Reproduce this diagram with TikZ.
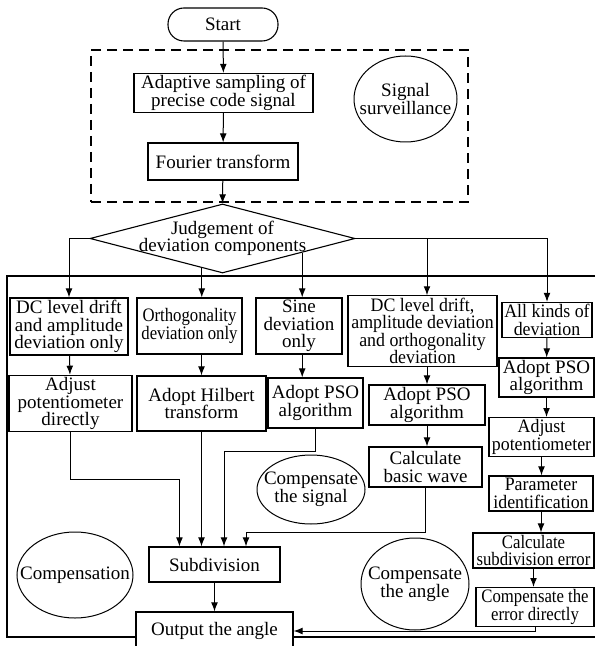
\documentclass[tikz,border=0pt]{standalone}
\usepackage{fontspec}
\setmainfont{Liberation Serif}
\newfontfamily\narrowfont[FakeStretch=0.88]{Liberation Serif}
\newfontfamily\semifont[FakeStretch=0.94]{Liberation Serif}
\usetikzlibrary{positioning,arrows.meta,calc,shapes.geometric}
\newcommand\diagfont{\fontsize{9.5}{8.8}\selectfont}
\tikzset{
  box/.style={draw, line width=0.55pt, align=center, inner sep=1pt, font=\diagfont},
  oval/.style={draw, ellipse, line width=0.5pt, inner sep=0pt},
  txt/.style={align=center, inner sep=0pt, font=\diagfont},
  flow/.style={-{Latex[length=4.5pt,width=3.4pt]}, line width=0.5pt},
}

\begin{document}
\begin{tikzpicture}[x=0.5pt, y=-0.5pt]
  \useasboundingbox (0,0) rectangle (595,646);

  %% surveillance part
  \node[box, rounded corners=8pt, minimum width=55pt, minimum height=16.5pt] (start) at (223,24.5) {Start};
  \node[draw, line width=0.7pt, dash pattern=on 5pt off 3pt, minimum width=188.5pt, minimum height=76pt] (survey) at (279.5,126) {};
  \node[box, minimum width=89.5pt, minimum height=19pt] (adapt) at (223.5,93) {Adaptive sampling of\\precise code signal};
  \node[box, minimum width=75pt, minimum height=18.5pt] (fourier) at (223,161.5) {Fourier transform};
  \node[oval, minimum width=51.5pt, minimum height=43pt,
        label={[txt]center:{Signal\\surveillance}}] (sigsv) at (405.5,99) {};

  \draw[flow] (start) -- (adapt);
  \draw[flow] (adapt) -- (fourier);

  %% judgement
  \node[draw, diamond, line width=0.55pt, inner sep=0pt, minimum width=132.5pt, minimum height=34.5pt,
        label={[txt]center:{Judgement of\\deviation components}}] (judge) at (222.5,238.5) {};
  \draw[flow] (fourier) -- (judge.north);

  %% compensation frame
  \draw[line width=0.55pt] (595,276) -| (7,637) -- (595,637);

  %% first row
  \node[box, minimum width=59pt, minimum height=28.5pt] (dc1) at (69,326.5) {DC level drift\\and amplitude\\deviation only};
  \node[box, minimum width=52.5pt, minimum height=28pt] (ortho) at (189.5,326) {\narrowfont Orthogonality\\\narrowfont deviation only};
  \node[box, minimum width=43pt, minimum height=28pt] (sine) at (299,326) {Sine\\deviation\\only};
  \node[box, minimum width=74.5pt, minimum height=33pt] (dc2) at (422.5,331) {\semifont DC level drift,\\\semifont amplitude deviation\\\semifont and orthogonality\\\semifont deviation};
  \node[box, minimum width=45pt, minimum height=17pt] (allk) at (547,320) {\semifont All kinds of\\\semifont deviation};

  \draw[flow] (judge.west) -| (dc1.north);
  \draw[flow] (judge.-125) -- (judge.-125 |- ortho.north);
  \draw[flow] (judge.-10) -- (judge.-10 |- sine.north);
  \draw[flow] (judge.east) -| (allk.north);
  \coordinate (split) at (judge.east -| 427,0);
  \draw[flow] (split) -- (split |- dc2.north);

  %% second row
  \node[box, minimum width=61.5pt, minimum height=27.5pt] (adjd) at (70.5,403.5) {Adjust\\potentiometer\\directly};
  \node[box, minimum width=64.5pt, minimum height=27.5pt] (hilb) at (201.5,403.5) {Adopt Hilbert\\transform};
  \node[box, minimum width=47.5pt, minimum height=25pt] (pso1) at (315.5,403) {Adopt PSO\\algorithm};
  \node[box, minimum width=58pt, minimum height=20pt] (pso2) at (427,405) {Adopt PSO\\algorithm};
  \node[box, minimum width=47.5pt, minimum height=19.5pt] (pso3) at (546.5,377.5) {Adopt PSO\\algorithm};

  \draw[flow] (dc1) -- (adjd);
  \draw[flow] (hilb.north |- ortho.south) -- (hilb.north);
  \draw[flow] (sine.south -| judge.-10) -- (pso1.north -| judge.-10);
  \draw[flow] (dc2.south -| pso2.north) -- (pso2.north);
  \draw[flow] (allk) -- (pso3);

  %% right column
  \node[box, minimum width=56.5pt, minimum height=20pt] (calc) at (425.5,467) {Calculate\\basic wave};
  \node[box, minimum width=52.5pt, minimum height=18pt] (adjp) at (541.5,437) {\semifont Adjust\\\semifont potentiometer};
  \node[box, minimum width=52pt, minimum height=17.5pt] (param) at (541,493.5) {\semifont Parameter\\\semifont identification};
  \node[box, minimum width=60.5pt, minimum height=17.5pt] (csub) at (533.5,550.5) {\narrowfont Calculate\\\narrowfont subdivision error};
  \node[box, minimum width=59pt, minimum height=17pt] (cerr) at (535,607) {\narrowfont Compensate the\\\narrowfont error directly};

  \draw[flow] (pso2) -- (pso2 |- calc.north);
  \draw[flow] (pso3.south) -- (pso3.south |- adjp.north);
  \draw[flow] (adjp.south) -- (adjp.south |- param.north);
  \draw[flow] (param.south) -- (param.south |- csub.north);
  \draw[flow] (csub.south) -- (csub.south |- cerr.north);

  %% subdivision and output
  \node[box, minimum width=65.5pt, minimum height=17.5pt] (sub) at (214.5,564.5) {Subdivision};
  \node[box, fill=white, minimum width=78.5pt, minimum height=19pt] (out) at (214.5,631) {Output the angle};

  \draw[flow] (adjd.south) -- ++(0,47) -| ($(sub.north west)+(31,0)$);
  \draw[flow] (hilb.south) -- (hilb.south |- sub.north);
  \draw[flow] (pso1.south) -- ++(0,23) -| ($(sub.north)+(9.5,0)$);
  \draw[flow] (calc.south) -- ++(0,45) -| ($(sub.north)+(31.5,0)$);
  \draw[flow] (sub) -- (out);
  \draw[flow] (cerr.south) |- (out.east);

  %% labels of the parts
  \node[oval, minimum width=54pt, minimum height=34.5pt,
        label={[txt]center:{Compensate\\the signal}}] (csig) at (311,489.5) {};
  \node[oval, minimum width=54pt, minimum height=46pt,
        label={[txt]center:{Compensate\\the angle}}] (cang) at (415,584) {};
  \node[oval, minimum width=58pt, minimum height=43pt,
        label={[txt]center:{Compensation}}] (comp) at (75,575) {};
\end{tikzpicture}
\end{document}
